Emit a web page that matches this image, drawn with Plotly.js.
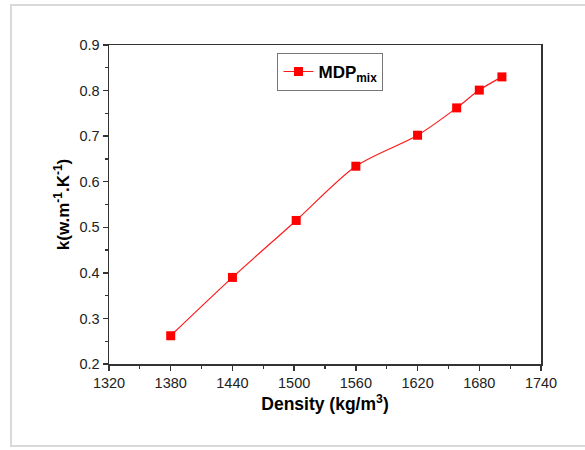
<!DOCTYPE html>
<html><head><meta charset="utf-8">
<script src="https://cdn.plot.ly/plotly-3.0.1.min.js"></script>
<style>
html,body{margin:0;padding:0;background:#fff;}
#wrap{position:relative;width:585px;height:450px;}
#chart{width:585px;height:450px;}
#frame{position:absolute;left:10px;top:4px;width:580px;height:443px;border:2px solid #d9d9d9;box-sizing:border-box;pointer-events:none;}
</style></head>
<body><div id="wrap"><div id="chart"></div><div id="frame"></div></div>
<script>
const density = [1380, 1440, 1502, 1560, 1620, 1658, 1680, 1702];
const kValues = [0.262, 0.390, 0.515, 0.634, 0.702, 0.762, 0.801, 0.830];
const seriesName = 'MDP<sub>mix</sub>';
const xTicks = [1320, 1380, 1440, 1500, 1560, 1620, 1680, 1740];
const yTicks = [0.2, 0.3, 0.4, 0.5, 0.6, 0.7, 0.8, 0.9];

const FONT = 'Liberation Sans, Arial, sans-serif';
const trace = {
  x: density, y: kValues, name: seriesName, type: 'scatter', mode: 'lines+markers',
  line: {color: '#ff1a1a', width: 1.2, shape: 'spline', smoothing: 0.85},
  marker: {symbol: 'square', size: 9, color: '#ff0000'}
};
const axisCommon = {
  showgrid: false, zeroline: false, showline: true, linecolor: '#333', linewidth: 1.5,
  mirror: true, ticks: 'outside', ticklen: 5, tickwidth: 1.3, tickcolor: '#333',
  tickfont: {family: FONT, size: 14.5, color: '#222'}
};
const layout = {
  width: 585, height: 450,
  margin: {l: 109, r: 44, t: 45, b: 86},
  paper_bgcolor: '#fff', plot_bgcolor: '#fff',
  showlegend: true,
  legend: {x: 0.39, y: 0.975, xanchor: 'left', yanchor: 'top', bordercolor: '#777', borderwidth: 1,
    bgcolor: '#fff', font: {family: FONT, size: 17, color: '#000', weight: 'bold'}},
  xaxis: Object.assign({}, axisCommon, {
    range: [1320, 1740], tickvals: xTicks, ticktext: xTicks.map(String),
    minor: {ticks: 'outside', ticklen: 3, tickwidth: 1.2, tickcolor: '#333', dtick: 30, tick0: 1320},
    title: {text: 'Density (kg/m<sup>3</sup>)', standoff: 8,
      font: {family: FONT, size: 17.5, color: '#000', weight: 'bold'}}
  }),
  yaxis: Object.assign({}, axisCommon, {
    range: [0.2, 0.9], tickvals: yTicks, ticktext: yTicks.map(v => v.toFixed(1)),
    minor: {ticks: 'outside', ticklen: 3, tickwidth: 1.2, tickcolor: '#333', dtick: 0.05, tick0: 0.2},
    title: {text: 'k(w.m<sup>-1</sup>.K<sup>-1</sup>)', standoff: 5,
      font: {family: FONT, size: 17, color: '#000', weight: 'bold'}}
  })
};
Plotly.newPlot('chart', [trace], layout, {displayModeBar: false, staticPlot: true});
</script></body></html>
